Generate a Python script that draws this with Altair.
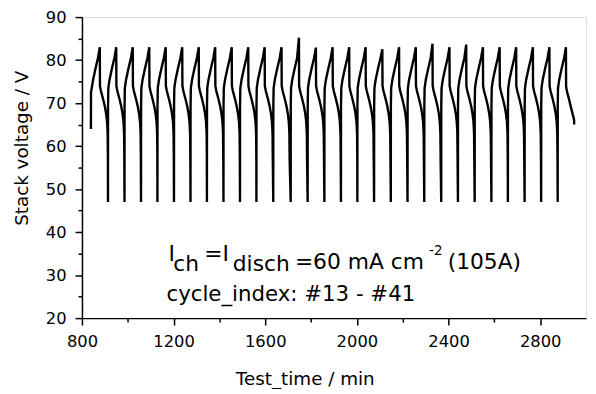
import altair as alt
import pandas as pd

# ---- data ----
# time (min) and voltage (V) of each cycle's charge-end peak, cycle #13 .. #41
peak_time = [877.8, 949.5, 1021.6, 1093.7, 1165.4, 1237.6, 1309.7, 1381.4, 1453.6, 1525.7,
             1597.4, 1671.0, 1747.0, 1821.0, 1894.0, 1966.3, 2038.0, 2111.0, 2184.0, 2257.0,
             2330.0, 2404.0, 2477.0, 2550.0, 2623.0, 2695.0, 2768.0, 2840.2, 2912.3]
peak_volt = [83.0, 83.0, 83.0, 83.0, 83.0, 83.0, 83.0, 83.0, 83.0, 83.0,
             83.0, 83.0, 85.2, 82.9, 83.0, 83.0, 83.0, 82.5, 83.0, 83.0,
             83.8, 83.0, 83.6, 83.0, 83.0, 83.0, 83.0, 83.0, 83.0]

# start of the record (first cycle begins mid-way)
start_time = [839.0, 839.4]
start_volt = [64.0, 72.5]

# shape of one charge step, minutes before the peak / voltage
charge_dt = [-36.0, -35.7, -34.5, -29.0, -18.0, -8.0]
charge_v = [47.0, 69.5, 73.5, 75.5, 78.2, 80.5]

# shape of one discharge step, minutes after the peak / voltage
dis_dt = [0.8, 5.0, 14.0, 22.0, 28.0, 32.0, 34.3, 35.4]
dis_v = [74.0, 72.8, 71.0, 69.2, 67.4, 65.5, 63.0, 57.0]

# last (interrupted) discharge
last_dt = [0.8, 5.0, 14.0, 22.0, 29.0, 34.5, 35.7, 35.9]
last_v = [73.8, 72.6, 70.8, 69.0, 67.5, 66.4, 66.0, 65.0]

# axis ticks
x_major = [800, 1200, 1600, 2000, 2400, 2800]
x_minor = [1000, 1400, 1800, 2200, 2600]
y_major = [20, 30, 40, 50, 60, 70, 80, 90]
y_minor = [25, 35, 45, 55, 65, 75, 85]

# ---- build the line table ----
rows = []


def add(t, v):
    rows.append({"t": t, "v": v, "i": len(rows)})


for t, v in zip(start_time, start_volt):
    add(t, v)
n = len(peak_time)
for k, (p, pv) in enumerate(zip(peak_time, peak_volt)):
    pairs = list(zip(charge_dt, charge_v))
    if k == 0:
        pairs = pairs[3:]
    for dt, v in pairs:
        add(p + dt, v)
    add(p, pv)
    tail = zip(dis_dt, dis_v) if k < n - 1 else zip(last_dt, last_v)
    for dt, v in tail:
        add(p + dt, v)

df = pd.DataFrame(rows)

FONT = "DejaVu Sans"

xscale = alt.Scale(domain=[800, 3000], nice=False, zero=False)
yscale = alt.Scale(domain=[20, 90], nice=False, zero=False)

axis_common = dict(grid=False, domainColor="black", domainWidth=1.5, tickColor="black",
                   tickWidth=1.5, labelColor="black", labelFont=FONT, labelFontSize=16.5,
                   labelFlush=False, titleFont=FONT, titleFontSize=18.5,
                   titleFontWeight="normal", titleColor="black")

line = alt.Chart(df).mark_line(color="black", strokeWidth=2.4, strokeJoin="miter").encode(
    x=alt.X("t:Q", scale=xscale,
            axis=alt.Axis(values=x_major, tickSize=7, labelPadding=9, titlePadding=20,
                          title="Test_time / min", titleX=225, orient="bottom",
                          format="d", **axis_common)),
    y=alt.Y("v:Q", scale=yscale,
            axis=alt.Axis(values=y_major, tickSize=7, labelPadding=9, titlePadding=14,
                          title="Stack voltage / V", titleY=132, orient="left",
                          **axis_common)),
    order="i:Q",
)

minor = alt.Chart(df).mark_line(strokeOpacity=0).encode(
    x=alt.X("t:Q", scale=xscale,
            axis=alt.Axis(values=x_minor, tickSize=4, labels=False, domain=False,
                          title=None, orient="bottom", grid=False, tickColor="black",
                          tickWidth=1.5)),
    y=alt.Y("v:Q", scale=yscale,
            axis=alt.Axis(values=y_minor, tickSize=4, labels=False, domain=False,
                          title=None, orient="left", grid=False, tickColor="black",
                          tickWidth=1.5)),
    order="i:Q",
)

label_main = ["I", "=I", "=60 mA cm", "(105A)", "cycle_index: #13 - #41"]
label_sub = ["ch", "disch"]
label_sup = ["-2"]


def txt(s, x, y, size):
    return alt.Chart(pd.DataFrame({"s": [s]})).mark_text(
        align="left", baseline="alphabetic", font=FONT, fontSize=size, color="black"
    ).encode(x=alt.value(x), y=alt.value(y), text="s:N")


texts = [
    txt(label_main[0], 87.3, 246.7, 22),
    txt(label_sub[0], 92.3, 256.7, 22),
    txt(label_main[1], 123.5, 246.7, 22),
    txt(label_sub[1], 152.3, 256.7, 22),
    txt(label_main[2], 215.0, 254.7, 22),
    txt(label_sup[0], 350.5, 240.0, 13.5),
    txt(label_main[3], 369.3, 254.7, 22),
    txt(label_main[4], 85.3, 286.4, 21.5),
]

chart = alt.layer(line, minor, *texts).resolve_axis(x="independent", y="independent").properties(
    width=509, height=304,
    autosize=alt.AutoSizeParams(type="none"),
    padding={"left": 74.7, "top": 7.3, "right": 2, "bottom": 70},
).configure_view(stroke="#333", strokeWidth=1.5).configure(background="white")

chart.save("out.html", embed_options={"renderer": "svg", "actions": False})
